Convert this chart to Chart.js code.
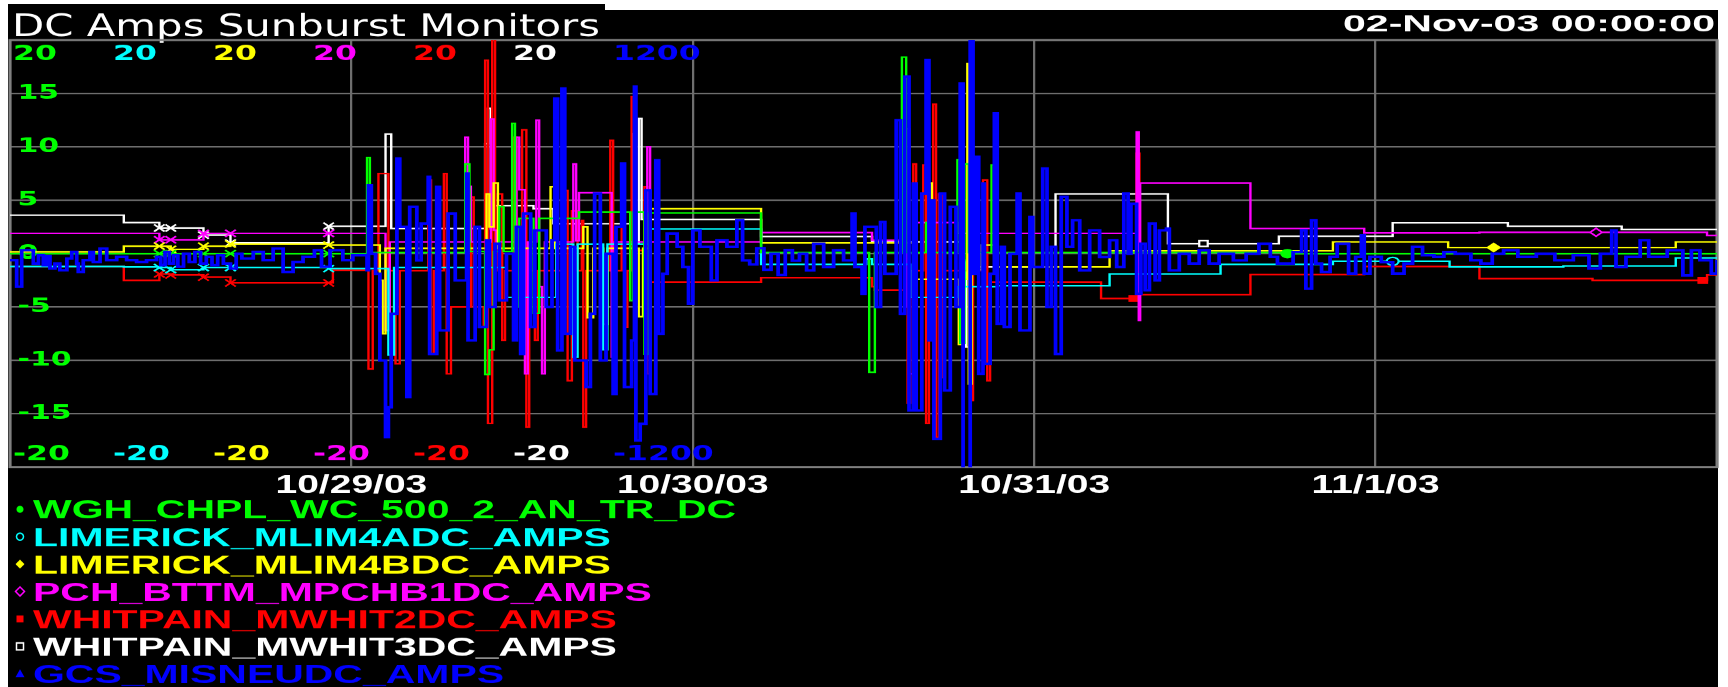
<!DOCTYPE html>
<html>
<head>
<meta charset="utf-8">
<title>DC Amps Sunburst Monitors</title>
<script src="https://cdn.jsdelivr.net/npm/chart.js@4.4.1/dist/chart.umd.min.js"></script>
<style>
  html, body { margin: 0; padding: 0; background: #fff; overflow: hidden; }
  /* the source picture is stretched sideways, so draw narrow and widen */
  #wrap { position: absolute; left: 0; top: 0; width: 1152px; height: 687px; transform: scaleX(1.5); transform-origin: 0 0; }
</style>
</head>
<body>
<div id="wrap"><canvas id="chart" width="1152" height="687"></canvas></div>
<script>
const SX = 1.5;

const titleText = 'DC Amps Sunburst Monitors';
const stampText = '02-Nov-03 00:00:00';
// x is hours since 10/28/03 00:00, one label per day
const dayLabels = ['', '10/29/03', '10/30/03', '10/31/03', '11/1/03', ''];

const names = [
  'WGH_CHPL_WC_500_2_AN_TR_DC',
  'LIMERICK_MLIM4ADC_AMPS',
  'LIMERICK_MLIM4BDC_AMPS',
  'PCH_BTTM_MPCHB1DC_AMPS',
  'WHITPAIN_MWHIT2DC_AMPS',
  'WHITPAIN_MWHIT3DC_AMPS',
  'GCS_MISNEUDC_AMPS'
];
const colors = ['#00ff00', '#00ffff', '#ffff00', '#ff00ff', '#ff0000', '#ffffff', '#0000ff'];
const axisMax = [20, 20, 20, 20, 20, 20, 1200];
const symbols = ['circle', 'circle', 'rectRot', 'rectRot', 'rect', 'rect', 'triangle'];
const hollow = [false, true, false, true, false, true, false];

// hours where the early samples carry an "x" flag
const flagHours = [10.5, 11.3, 13.6, 15.5, 22.4];
// hours where a series shows its own symbol
const symbolHours = [[89.8], [97.2], [104.3], [111.5], [79.0, 119.0], [83.9], []];

// [hour, amps]
const green = [
  [0,0],[10.5,0],[11.3,0],[13.6,0],[15.5,0],[22.4,0],[25.1,9.0],[25.3,0.1],[32.0,8.4],[32.3,0.2],
  [33.4,-11.3],[33.7,-9.0],[34.0,0.2],[34.4,4.4],[34.7,0.2],[35.3,12.2],[35.5,-5.0],[35.8,3.3],
  [36.8,-5.6],[37.2,3.3],[40.0,3.9],[43.6,-4.4],[43.8,3.9],[44.6,-9.4],[44.9,3.8],[52.8,0.1],
  [60.4,-11.1],[60.8,0.1],[62.7,18.4],[63.0,0.1],[64.4,2.9],[64.6,0.1],[66.6,8.8],[66.8,-8.4],
  [67.1,8.4],[67.4,0.1],[69.0,8.3],[69.2,0.1],[89.8,0.0],[120,0.0]
];
const cyan = [
  [0,-1.2],[8,-1.25],[10.5,-1.3],[11.3,-1.5],[13.6,-1.3],[15.5,-1.3],[22.4,-1.4],[26.6,-9.5],[27.0,-1.3],
  [34.9,-4.1],[38.4,0.9],[39.6,-9.7],[39.9,0.9],[41.7,-9.0],[42.0,0.9],[45.0,2.3],[52.8,-1.0],
  [60.2,-0.5],[60.6,-1.0],[63.3,-4.1],[66.6,-3.1],[66.9,-0.6],[67.1,-3.1],[69.4,-3.0],[77.3,-1.9],
  [85.1,-1.0],[93.0,-0.72],[97.2,-0.72],[101.2,-1.25],[109.2,-1.15],[117.1,-0.4],[120,-0.4]
];
const yellow = [
  [0,0.17],[8,0.7],[10.5,0.7],[11.3,0.4],[13.6,0.7],[15.5,0.9],[22.4,0.8],[26.0,-2.5],[26.2,-7.5],
  [26.4,0.5],[33.5,5.6],[33.7,2.5],[34.0,6.6],[34.3,0.5],[38.0,6.25],[38.3,0.5],[40.3,2.5],[40.6,-6.0],
  [41.0,0.5],[41.7,-6.6],[42.0,0.5],[44.2,-5.9],[44.5,0.5],[45.0,4.2],[52.8,1.0],[63.5,-2.4],
  [64.6,6.6],[64.8,-2.4],[66.7,-8.5],[67.0,-2.4],[67.3,17.8],[67.4,-12.2],[67.6,0.8],[68.1,-1.5],
  [68.3,0.8],[69.4,-1.25],[77.3,0.26],[93.0,1.1],[101.1,0.57],[104.3,0.57],[117.1,1.1],[120,1.1]
];
const magenta = [
  [0,1.9],[10.5,1.3],[11.3,1.3],[13.6,1.9],[15.5,1.9],[22.4,1.9],[26.4,-7.2],[26.7,1.1],[32.0,10.9],
  [32.2,6.3],[32.4,1.1],[33.8,12.6],[34.0,2.2],[34.2,1.1],[35.6,10.9],[35.8,6.0],[36.2,-11.25],
  [36.4,1.1],[37.0,12.5],[37.2,-3.1],[37.4,-11.25],[37.6,1.1],[39.6,8.4],[39.8,1.2],[40.0,5.7],
  [42.3,-9.7],[42.5,1.1],[44.8,10.0],[45.0,1.1],[52.8,1.97],[60.2,1.97],[60.6,1.25],[62.7,12.5],
  [62.9,-5.0],[63.0,11.7],[63.2,-11.25],[63.5,2.9],[66.6,1.9],[79.2,11.4],[79.35,-6.25],[79.45,6.6],
  [87.2,2.35],[95.2,1.94],[103.3,2.0],[111.5,2.0],[119.3,1.7],[120,1.7]
];
const red = [
  [0,-1.2],[8,-2.5],[10.5,-1.9],[11.3,-2.0],[13.6,-2.2],[15.5,-2.74],[22.4,-2.74],[22.7,-1.55],
  [25.2,-10.8],[25.5,-1.6],[25.9,7.5],[26.6,-1.6],[27.1,-10.3],[27.4,-1.6],[29.4,6.9],[29.6,-9.4],
  [29.8,-1.6],[30.5,7.5],[30.7,-11.25],[31.0,-5.0],[32.4,5.3],[32.6,-5.0],[33.0,-6.9],[33.3,-5.0],
  [33.4,18.1],[33.6,-15.9],[33.9,21],[34.1,-1.6],[34.3,5.6],[34.6,-8.1],[34.8,-1.6],[35.4,10.9],
  [35.6,-1.9],[36.0,11.6],[36.3,-16.25],[36.5,-1.6],[36.9,-8.1],[37.1,-1.6],[39.0,5.9],[39.2,-11.9],
  [39.5,4.0],[39.9,-1.6],[40.2,3.1],[40.3,-16.25],[40.5,-1.6],[42.2,10.6],[42.4,-9.7],[42.6,-1.6],
  [43.0,2.5],[43.2,-6.9],[43.4,-1.6],[43.7,14.7],[43.9,0.3],[44.6,6.25],[44.8,-11.25],[45.0,-2.65],
  [52.8,-2.25],[60.2,-2.25],[60.6,-3.1],[60.8,-3.4],[62.9,8.4],[63.1,-14.0],[63.3,-1.6],[63.5,8.4],
  [63.7,-1.6],[64.2,8.3],[64.4,-15.9],[64.6,-1.6],[64.9,14.0],[65.1,-17.2],[65.3,5.6],[65.5,-11.6],
  [65.7,-1.6],[67.3,8.4],[67.5,-13.75],[67.7,-1.6],[68.4,6.9],[68.7,-11.9],[68.9,-2.65],[76.7,-4.2],
  [79.0,-4.2],[79.2,9.4],[79.4,-3.85],[87.2,-1.96],[95.2,-1.2],[103.3,-2.34],[111.25,-2.5],
  [119.0,-2.5],[119.3,-2.0],[120,-2.0]
];
const white = [
  [0,3.6],[8,2.9],[10.5,2.4],[11.3,2.4],[13.6,1.73],[15.5,1.0],[22.4,2.57],[26.4,11.2],[26.8,2.35],
  [33.4,10.3],[33.6,13.6],[33.8,2.3],[34.0,4.5],[36.8,4.2],[38.2,2.8],[43.8,11.25],[43.9,1.0],
  [44.2,12.65],[44.4,3.2],[52.8,1.6],[60.2,1.6],[60.6,1.1],[66.8,10.3],[67.0,-0.8],[67.2,-8.75],
  [67.4,1.1],[67.8,-1.25],[73.5,5.6],[81.4,0.94],[83.9,0.94],[89.2,1.63],[97.2,2.88],[105.3,2.57],
  [113.3,2.26],[120,2.26]
];
const blue = [
  [0,-36],[0.47,-186],[0.82,19],[1.64,-56],[2.0,-9],[2.34,-65],[2.58,-14],[2.81,-84],[3.16,-56],[3.5,-93],
  [4.0,-28],[4.34,10],[4.69,-56],[4.8,-103],[5.15,-36],[5.62,10],[5.86,-46],[6.33,29],[6.8,-36],[7.5,-18],
  [8.2,-36],[8.9,-46],[9.6,-36],[10.3,-18],[10.6,-65],[10.9,10],[11.2,-56],[11.5,-9],[11.8,-74],[12.2,0],
  [12.6,-46],[13.0,10],[13.4,-56],[13.8,-18],[14.2,-65],[14.6,-9],[15.0,-56],[15.5,-84],[15.9,0],[16.3,-28],
  [17.1,10],[17.8,-36],[18.5,29],[19.2,-103],[19.9,-46],[20.6,-18],[21.4,19],[21.9,-74],[22.5,19],[23.4,-36],
  [24.1,-9],[25.1,-93],[25.2,384],[25.4,0],[25.7,-113],[26.0,-600],[26.4,-1031],[26.6,-863],[26.8,-338],
  [27.2,534],[27.4,150],[27.9,-806],[28.1,263],[28.6,-38],[28.9,169],[29.4,431],[29.5,-563],[30.0,375],
  [30.2,-431],[30.8,225],[31.3,-150],[32.1,450],[32.2,-488],[32.7,150],[33.0,-413],[33.5,75],[33.7,-300],
  [34.1,56],[34.4,-263],[34.9,0],[35.4,-488],[35.6,150],[35.9,-563],[36.1,225],[36.6,-413],[36.9,131],
  [37.7,-300],[38.1,75],[38.3,872],[38.5,-544],[38.8,928],[39.0,-450],[39.4,38],[39.7,-600],[40.5,-750],
  [40.8,-338],[41.1,338],[41.5,-600],[41.9,0],[42.4,-788],[42.6,150],[43.0,506],[43.2,-750],[43.7,-488],
  [43.9,938],[44.0,-1050],[44.3,-956],[44.7,356],[45.0,-788],[45.4,525],[45.6,-450],[45.9,-113],[46.2,113],
  [46.9,38],[47.3,-75],[47.7,-281],[48.0,131],[48.5,38],[49.3,-150],[49.7,75],[50.4,38],[51.1,188],[51.5,-38],
  [52.0,-60],[52.5,30],[53.0,-90],[53.5,0],[54.0,-120],[54.5,20],[55.0,-40],[55.5,0],[56.0,-94],[56.5,56],
  [57.2,-75],[57.9,19],[58.6,-38],[59.2,225],[59.4,-75],[59.9,-225],[60.1,150],[60.9,-300],[61.2,178],
  [61.5,-113],[62.3,750],[62.6,-338],[62.9,994],[63.2,-881],[63.5,394],[63.7,-881],[64.1,338],[64.4,1088],
  [64.6,-488],[64.8,300],[64.95,-1041],[65.4,338],[65.7,-769],[66.1,263],[66.5,-300],[66.8,956],[67.0,-1250],
  [67.5,1250],[67.7,-113],[67.9,544],[68.1,-675],[68.4,394],[68.5,-619],[68.9,-113],[69.2,788],[69.4,-394],
  [69.7,38],[69.9,-413],[70.3,0],[70.8,338],[71.0,-431],[71.7,206],[71.9,-75],[72.6,478],[72.9,-300],
  [73.2,38],[73.5,-563],[73.9,319],[74.3,38],[74.7,188],[75.2,-94],[75.9,131],[76.6,-19],[77.3,75],
  [77.8,-75],[78.3,338],[78.6,0],[78.8,281],[79.2,-225],[79.5,56],[79.8,-206],[80.1,169],[80.5,-150],
  [80.8,131],[81.3,141],[81.5,-94],[82.2,0],[82.9,-56],[83.6,19],[84.3,-56],[85.0,0],[86.0,-38],[86.9,0],
  [87.8,56],[88.6,-18],[89.1,-56],[90.2,9],[90.8,131],[91.1,-197],[91.5,188],[91.8,-56],[92.2,-103],
  [92.8,-18],[93.3,56],[94.1,-112],[94.6,-18],[95.0,103],[95.2,-112],[95.6,-18],[96.4,-47],[97.2,-112],
  [98.0,-56],[98.6,38],[99.3,-9],[100.1,-18],[100.8,9],[101.6,0],[102.7,-37],[103.4,-56],[104.2,0],
  [105.0,19],[106.0,-18],[107.3,0],[108.6,-37],[109.9,-9],[111.0,-84],[111.8,0],[112.6,131],[112.9,-75],
  [113.6,-18],[114.6,75],[115.2,-18],[116.5,19],[117.6,-122],[118.2,19],[118.8,-37],[119.6,-112],[120,-37]
];

const series = [green, cyan, yellow, magenta, red, white, blue];

const near = (list, x) => list.some(h => Math.abs(h - x) < 0.001);
const isFlag = (i, c) => i < 6 && c.raw && near(flagHours, c.raw.x);
const isSym = (i, c) => c.raw && near(symbolHours[i], c.raw.x);

const GRID = '#6e6e6e';

const scales = {
  x: {
    type: 'linear', min: 0, max: 120,
    ticks: {
      stepSize: 24, autoSkip: false, maxRotation: 0, padding: 3, color: '#fff',
      font: { family: 'Liberation Sans', weight: 'bold', size: 26 },
      callback: v => dayLabels[Math.round(v / 24)]
    },
    grid: { color: GRID, lineWidth: 1.5, drawTicks: false },
    border: { display: false },
    afterFit: s => { s.height = 220; }
  }
};
axisMax.forEach((m, i) => {
  scales['y' + i] = {
    type: 'linear', position: 'left', min: -m, max: m, display: i === 0,
    ticks: {
      stepSize: 5, mirror: true, padding: 5, color: colors[0],
      font: { family: 'DejaVu Sans', weight: 'bold', size: 20 },
      callback: v => Math.abs(v) === 20 ? '' : v
    },
    grid: { color: GRID, lineWidth: 1.5, drawTicks: false },
    border: { display: false },
    afterFit: s => { s.width = 0; }
  };
});

function fitText(ctx, text, x, y, width, align) {
  const w = ctx.measureText(text).width;
  ctx.save();
  ctx.translate(x, y);
  ctx.scale(width / w, 1);
  ctx.textAlign = align;
  ctx.fillText(text, 0, 0);
  ctx.restore();
}

function symbol(ctx, kind, filled, color, x, y) {
  ctx.save();
  ctx.translate(x, y);
  ctx.scale(1 / SX, 1);
  ctx.fillStyle = color; ctx.strokeStyle = color; ctx.lineWidth = 1.5;
  ctx.beginPath();
  const r = 3.5;
  if (kind === 'circle') ctx.arc(0, 0, r, 0, Math.PI * 2);
  else if (kind === 'rectRot') { ctx.moveTo(0, -r - 1); ctx.lineTo(r + 1, 0); ctx.lineTo(0, r + 1); ctx.lineTo(-r - 1, 0); ctx.closePath(); }
  else if (kind === 'rect') ctx.rect(-r, -r, 2 * r, 2 * r);
  else { ctx.moveTo(0, -r - 1); ctx.lineTo(r + 1, r); ctx.lineTo(-r - 1, r); ctx.closePath(); }
  if (filled) ctx.fill(); else ctx.stroke();
  ctx.restore();
}

const frame = {
  id: 'frame',
  beforeDraw(chart) {
    const ctx = chart.ctx;
    ctx.save();
    ctx.fillStyle = '#fff';
    ctx.fillRect(0, 0, chart.width, chart.height);
    ctx.fillStyle = '#000';
    ctx.fillRect(8 / SX, 10, 1710 / SX, chart.height - 10);
    ctx.fillRect(8 / SX, 4, 597 / SX, 10);
    ctx.fillStyle = '#fff';
    ctx.textBaseline = 'alphabetic';
    ctx.font = '31px "DejaVu Sans"';
    fitText(ctx, titleText, 12 / SX, 36, 588 / SX, 'left');
    ctx.font = 'bold 23px "Liberation Sans"';
    fitText(ctx, stampText, 1715 / SX, 31, 372 / SX, 'right');
    ctx.restore();
  },
  beforeDatasetsDraw(chart) {
    const ctx = chart.ctx, a = chart.chartArea;
    ctx.save();
    ctx.strokeStyle = '#808080';
    ctx.lineWidth = 2;
    ctx.strokeRect(a.left, a.top, a.right - a.left, a.bottom - a.top);
    ctx.font = 'bold 21px "DejaVu Sans"';
    ctx.textAlign = 'left';
    ctx.textBaseline = 'alphabetic';
    axisMax.forEach((m, i) => {
      const s = chart.scales['y' + i];
      const x = (13 + 100 * i) / SX;
      ctx.fillStyle = colors[i];
      ctx.fillText(String(s.max), x, a.top + 20);
      ctx.fillText(String(s.min), x, a.bottom - 7);
    });
    ctx.restore();
  },
  afterDraw(chart) {
    const ctx = chart.ctx;
    ctx.save();
    ctx.font = 'bold 26px "Liberation Sans"';
    ctx.textBaseline = 'alphabetic';
    chart.data.datasets.forEach((d, i) => {
      const y = 509 + 27.4 * i;
      symbol(ctx, symbols[i], !hollow[i], colors[i], 20 / SX, y);
      ctx.fillStyle = colors[i];
      ctx.save();
      ctx.translate(33 / SX, y + 9.3);
      ctx.scale(1.05, 1);
      ctx.fillText(d.label, 0, 0);
      ctx.restore();
    });
    ctx.restore();
  }
};

new Chart(document.getElementById('chart'), {
  type: 'line',
  data: {
    datasets: series.map((s, i) => ({
      label: names[i],
      data: s.map(([x, y]) => ({ x, y })),
      yAxisID: 'y' + i,
      borderColor: colors[i],
      backgroundColor: colors[i],
      borderWidth: i === 6 ? 2.5 : 1.6,
      stepped: true,
      order: i === 6 ? 0 : 1,
      pointRadius: c => isFlag(i, c) ? 5 : isSym(i, c) ? 4 : 0,
      pointStyle: c => isFlag(i, c) ? 'crossRot' : symbols[i],
      pointBorderColor: colors[i],
      pointBackgroundColor: hollow[i] ? '#000' : colors[i],
      pointBorderWidth: 1.5
    }))
  },
  options: {
    responsive: false,
    devicePixelRatio: 1.5,
    animation: false,
    events: [],
    layout: { padding: { top: 40, left: 10 / SX, right: 1152 - 1717 / SX, bottom: 0 } },
    scales,
    plugins: {
      legend: { display: false },
      tooltip: { enabled: false }
    }
  },
  plugins: [frame]
});
</script>
</body>
</html>
